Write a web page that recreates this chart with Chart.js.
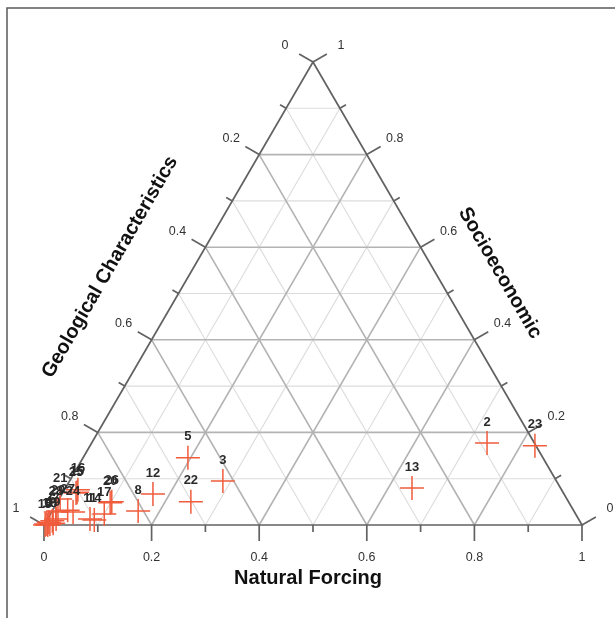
<!DOCTYPE html>
<html><head><meta charset="utf-8">
<script src="https://cdn.jsdelivr.net/npm/chart.js@4"></script>
<style>html,body{margin:0;padding:0;background:#fff}canvas{display:block}</style>
</head><body>
<canvas id="c" width="615" height="618"></canvas>
<script>
// ---- Data (ternary fractions: Natural Forcing + Socioeconomic + Geological = 1) ----
const pointLabels = ['1','2','3','4','5','6','7','8','9','10','11','12','13','14','15','16','17','18','19','20','21','22','23','24','25','26','27','28','29'];
const naturalForcing = [0.003,0.735,0.285,0.006,0.195,0.011,0.016,0.160,0.007,0.002,0.079,0.169,0.644,0.088,0.026,0.025,0.100,0.010,0.015,0.099,0.002,0.248,0.827,0.040,0.025,0.101,0.028,0.008,0.011];
const socioeconomic  = [0.002,0.177,0.095,0.006,0.145,0.009,0.013,0.030,0.000,0.000,0.013,0.067,0.080,0.011,0.071,0.076,0.024,0.002,0.004,0.048,0.056,0.050,0.171,0.028,0.069,0.050,0.032,0.028,0.030];
const geological     = [0.995,0.088,0.620,0.988,0.660,0.980,0.971,0.810,0.993,0.998,0.908,0.764,0.276,0.901,0.903,0.899,0.876,0.988,0.981,0.853,0.942,0.702,0.002,0.932,0.906,0.849,0.940,0.964,0.959];
const tickValues = [0,0.1,0.2,0.3,0.4,0.5,0.6,0.7,0.8,0.9,1];
const tickLabelValues = [0,0.2,0.4,0.6,0.8,1];
const tickLabelText = ['0','0.2','0.4','0.6','0.8','1'];
const axisTitles = {bottom:'Natural Forcing', left:'Geological Characteristics', right:'Socioeconomic'};

const R3 = Math.sqrt(3)/2;
const points = pointLabels.map((l,i)=>{
  const t = naturalForcing[i]+socioeconomic[i]+geological[i];
  const n = naturalForcing[i]/t, s = socioeconomic[i]/t;
  return {x: n + s/2, y: s*R3, label: l};
});

const ternaryPlugin = {
  id:'ternary',
  beforeDatasetsDraw(chart){
    const ctx = chart.ctx, xs = chart.scales.x, ys = chart.scales.y;
    const P = (n,s)=>[xs.getPixelForValue(n+s/2), ys.getPixelForValue(s*R3)];
    ctx.save();
    // frame
    ctx.strokeStyle='#5a5a5a'; ctx.lineWidth=1.5;
    ctx.beginPath(); ctx.moveTo(7,618); ctx.lineTo(7,8); ctx.lineTo(615,8); ctx.stroke();
    const line=(a,b)=>{ctx.beginPath();ctx.moveTo(a[0],a[1]);ctx.lineTo(b[0],b[1]);ctx.stroke();};
    // grid: minor first then major
    for (const pass of ['minor','major']){
      tickValues.forEach(v=>{
        if (v<=0||v>=1) return;
        const major = Math.round(v*10)%2===0;
        if ((pass==='major')!==major) return;
        ctx.strokeStyle = major ? '#b3b3b3' : '#dcdcdc';
        ctx.lineWidth = major ? 1.6 : 1.1;
        line(P(0,v), P(1-v,v));      // constant socioeconomic
        line(P(v,0), P(v,1-v));      // constant natural forcing
        line(P(1-v,0), P(0,1-v));    // constant geological
      });
    }
    // edges
    ctx.strokeStyle='#626262'; ctx.lineWidth=1.7;
    ctx.beginPath(); const A=P(0,0),B=P(1,0),C=P(0,1);
    ctx.moveTo(A[0],A[1]); ctx.lineTo(B[0],B[1]); ctx.lineTo(C[0],C[1]); ctx.closePath(); ctx.stroke();
    // ticks
    const dl=[-0.866,-0.5], dr=[0.866,-0.5], db=[0,1];
    tickValues.forEach(v=>{
      const major = Math.round(v*10)%2===0;
      const L = major?16:7;
      let p=P(v,0); line(p,[p[0]+db[0]*L,p[1]+db[1]*L]);
      p=P(0,1-v); line(p,[p[0]+dl[0]*L,p[1]+dl[1]*L]);
      p=P(1-v,v); line(p,[p[0]+dr[0]*L,p[1]+dr[1]*L]);
    });
    // tick labels
    ctx.fillStyle='#333'; ctx.font='12.5px "Liberation Sans", Arial, sans-serif';
    ctx.textAlign='center'; ctx.textBaseline='middle';
    tickLabelValues.forEach((v,i)=>{
      const t=tickLabelText[i];
      let p=P(v,0); ctx.fillText(t,p[0],p[1]+33);
      p=P(0,1-v); ctx.fillText(t,p[0]-28,p[1]-16);
      p=P(1-v,v); ctx.fillText(t,p[0]+28,p[1]-16);
    });
    // axis titles
    ctx.fillStyle='#111'; ctx.font='bold 20px "Liberation Sans", Arial, sans-serif';
    ctx.fillText(axisTitles.bottom, 308, 578);
    ctx.save(); ctx.translate(110,267); ctx.rotate(-Math.PI/3); ctx.fillText(axisTitles.left,0,0); ctx.restore();
    ctx.save(); ctx.translate(500,273); ctx.rotate(Math.PI/3); ctx.fillText(axisTitles.right,0,0); ctx.restore();
    ctx.restore();
  },
  afterDatasetsDraw(chart){
    const ctx=chart.ctx, meta=chart.getDatasetMeta(0);
    ctx.save();
    ctx.fillStyle='#2a2a2a'; ctx.font='bold 13px "Liberation Sans", Arial, sans-serif';
    ctx.textAlign='center'; ctx.textBaseline='middle';
    meta.data.forEach((el,i)=>{ ctx.fillText(points[i].label, el.x, el.y-21); });
    ctx.restore();
  }
};

new Chart(document.getElementById('c'), {
  type:'scatter',
  data:{datasets:[{
    data:points,
    pointStyle:'cross', pointRadius:12, pointHoverRadius:12,
    pointBorderColor:'rgb(240,92,60)', pointBorderWidth:1.5,
    clip:false
  }]},
  options:{
    responsive:false, animation:false,
    layout:{padding:{left:44,right:33,top:62,bottom:93}},
    plugins:{legend:{display:false}, tooltip:{enabled:false}},
    scales:{
      x:{type:'linear',min:0,max:1,display:false},
      y:{type:'linear',min:0,max:R3,display:false}
    }
  },
  plugins:[ternaryPlugin]
});
</script>
</body></html>
